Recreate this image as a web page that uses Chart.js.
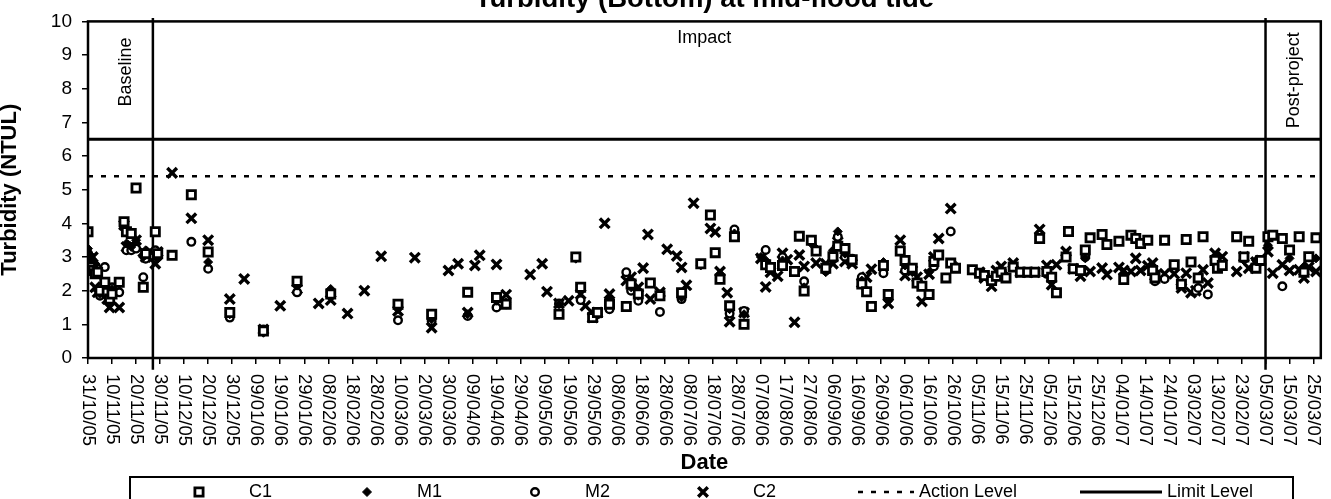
<!DOCTYPE html>
<html>
<head>
<meta charset="utf-8">
<title>Turbidity (Bottom) at mid-flood tide</title>
<script src="https://cdn.jsdelivr.net/npm/chart.js@4/dist/chart.umd.min.js"></script>
<style>
  html, body { margin: 0; padding: 0; background: #fff; }
  #wrap { width: 1331px; height: 499px; }
</style>
</head>
<body>
<div id="wrap"><canvas id="turbidityChart" width="1331" height="499"></canvas></div>
<script>
// sampling dates (dd/mm/yy), one reading per station, null = not visible
const sampleDates = [
  '31/10/05','01/11/05','02/11/05','03/11/05','04/11/05','05/11/05','07/11/05','08/11/05','09/11/05','10/11/05',
  '13/11/05','15/11/05','16/11/05','18/11/05','20/11/05','23/11/05','24/11/05','28/11/05','29/11/05','05/12/05',
  '13/12/05','20/12/05','29/12/05','04/01/06','12/01/06','19/01/06','26/01/06','04/02/06','09/02/06','16/02/06',
  '23/02/06','02/03/06','09/03/06','16/03/06','23/03/06','30/03/06','03/04/06','07/04/06','10/04/06','12/04/06',
  '19/04/06','23/04/06','03/05/06','08/05/06','10/05/06','15/05/06','19/05/06','22/05/06','24/05/06','26/05/06',
  '29/05/06','31/05/06','03/06/06','05/06/06','12/06/06','14/06/06','17/06/06','19/06/06','21/06/06','22/06/06',
  '26/06/06','29/06/06','03/07/06','05/07/06','07/07/06','10/07/06','13/07/06','17/07/06','19/07/06','21/07/06',
  '24/07/06','25/07/06','27/07/06','31/07/06','07/08/06','09/08/06','11/08/06','14/08/06','16/08/06','18/08/06',
  '21/08/06','23/08/06','25/08/06','28/08/06','30/08/06','03/09/06','06/09/06','08/09/06','11/09/06','14/09/06',
  '18/09/06','20/09/06','22/09/06','27/09/06','29/09/06','04/10/06','06/10/06','09/10/06','11/10/06','13/10/06',
  '16/10/06','18/10/06','20/10/06','23/10/06','25/10/06','27/10/06','03/11/06','06/11/06','08/11/06','11/11/06',
  '13/11/06','15/11/06','17/11/06','20/11/06','23/11/06','26/11/06','29/11/06','01/12/06','04/12/06','06/12/06',
  '08/12/06','12/12/06','13/12/06','15/12/06','18/12/06','20/12/06','22/12/06','27/12/06','29/12/06','03/01/07',
  '05/01/07','08/01/07','10/01/07','12/01/07','15/01/07','17/01/07','18/01/07','22/01/07','26/01/07','29/01/07',
  '31/01/07','02/02/07','04/02/07','05/02/07','07/02/07','09/02/07','12/02/07','13/02/07','15/02/07','21/02/07',
  '24/02/07','26/02/07','01/03/07','03/03/07','06/03/07','08/03/07','12/03/07','15/03/07','19/03/07','21/03/07',
  '23/03/07','26/03/07'
];

const c1Values = [
  3.75, 2.7, 2.6, 2.5, 2.55, 2.0, 2.25, 1.95, 1.75, 1.9,
  2.25, 4.05, 3.75, 3.7, 5.05, 2.1, 3.1, 3.75, 3.1, 3.05,
  4.85, 3.15, 1.35, null, 0.8, null, 2.28, null, 1.9, null,
  null, null, 1.6, null, 1.3, null, null, 1.95, null, null,
  1.8, 1.6, null, null, null, 1.3, null, 3.0, 2.1, null,
  1.2, 1.35, null, 1.6, 1.53, 2.2, 1.9, null, null, 2.23,
  1.85, null, null, 1.94, null, null, 2.8, 4.25, 3.13, 2.34,
  null, 1.55, 3.6, 1.0, null, 2.77, 2.69, null, 2.75, null,
  2.57, 3.62, 1.99, 3.5, 3.18, 2.67, 3.01, 3.32, 3.25, 2.92,
  2.2, 1.97, 1.53, 2.75, 1.89, 3.18, 2.9, 2.67, 2.23, 2.13,
  1.89, 2.87, 3.06, 2.38, 2.82, 2.67, 2.62, 2.52, 2.45, 2.3,
  2.43, 2.55, 2.38, 2.7, 2.55, 2.55, 2.55, 3.55, 2.57, 2.4,
  1.94, 3.0, 3.76, 2.65, 2.6, 3.21, 3.57, 3.67, 3.37, 3.47,
  2.33, 3.65, 3.55, 3.4, 3.5, 2.6, 2.38, 3.5, 2.77, 2.19,
  3.52, 2.85, null, 2.38, 3.6, null, 2.9, 2.67, 2.75, 3.6,
  3.0, 3.47, 2.67, 2.9, 3.6, 3.65, 3.55, 3.21, 3.6, 2.55,
  3.01, 3.57
];

const m1Values = [
  3.25, 3.05, 2.9, 2.8, 2.0, 1.9, 2.0, 1.8, 1.7, 2.05,
  2.2, 4.0, 3.4, 3.3, 3.5, 3.0, 3.2, 3.1, 2.95, null,
  null, 2.85, 1.3, null, 0.75, null, 2.15, null, 2.05, null,
  null, null, 1.45, null, 1.15, null, null, 1.3, null, null,
  1.7, 1.65, null, null, null, 1.6, null, 2.95, 2.0, null,
  1.25, 1.3, null, 1.75, null, 2.1, 1.85, null, null, null,
  1.9, null, null, 1.8, null, null, 2.75, null, null, 2.5,
  null, 1.45, 3.7, 1.3, 3.0, 2.9, null, null, 2.9, null,
  null, null, 2.1, 3.4, 3.25, 2.55, 3.2, 3.76, 3.1, 2.85,
  2.3, null, null, 2.85, 1.7, null, 2.75, 2.55, 2.3, null,
  2.55, null, null, null, null, 2.75, 2.6, null, null, null,
  null, null, 2.45, null, null, 2.55, null, null, null, null,
  null, 3.1, null, null, null, 2.96, null, null, null, null,
  2.5, null, null, null, null, null, null, null, null, null,
  null, null, null, null, null, null, 3.0, null, null, null,
  2.9, null, 2.9, null, 3.35, null, null, 2.96, null, 2.72,
  null, 2.96
];

const m2Values = [
  3.1, 3.0, 2.85, 2.75, 2.65, 1.85, 2.7, 2.0, 1.85, 2.1,
  1.95, 3.9, 3.2, 3.2, 3.25, 2.4, 2.95, 3.2, 3.0, null,
  3.45, 2.65, 1.2, null, 0.85, null, 1.95, null, 1.95, null,
  null, null, 1.12, null, 1.1, null, null, 1.25, null, null,
  1.5, 1.6, null, null, null, 1.62, null, null, 1.72, null,
  1.3, 1.3, null, 1.45, 2.55, 2.0, 1.7, null, null, null,
  1.37, null, null, 1.75, null, null, null, null, null, null,
  null, 1.32, 3.82, 1.4, null, 3.21, null, null, 3.0, null,
  null, null, 2.28, null, null, 2.6, null, 3.6, 3.01, 2.95,
  2.4, null, null, 2.52, null, null, 2.6, null, null, null,
  null, 2.72, null, null, 3.76, null, null, null, null, null,
  null, null, null, null, null, null, null, null, 2.5, null,
  null, null, null, null, null, 3.0, null, null, null, null,
  null, null, null, null, null, null, 2.28, 2.35, null, null,
  null, null, 1.99, 2.08, null, 1.89, null, 2.8, null, null,
  2.95, null, null, null, null, null, 2.13, null, null, null,
  null, null
];

const c2Values = [
  2.9, 2.85, 3.0, 2.1, 1.95, 2.0, 1.9, 1.75, 1.5, 2.05,
  1.5, 3.95, 3.3, 3.35, 3.5, 3.15, 3.0, 2.8, 3.15, 5.5,
  4.15, 3.5, 1.75, 2.35, 0.85, 1.55, 2.05, 1.62, 1.72, 1.32,
  2.0, 3.02, 1.4, 2.98, 0.9, 2.6, 2.8, 1.35, 2.75, 3.05,
  2.78, 1.88, 2.48, 2.8, 1.97, 1.62, 1.7, null, 1.9, 1.55,
  1.2, 1.35, 4.0, 1.9, 2.3, 2.4, 2.1, 2.67, 3.67, 1.75,
  1.95, 3.23, 3.03, 2.69, 2.16, 4.6, null, 3.85, 3.74, 2.57,
  1.94, 1.08, null, 1.35, 2.96, 2.11, 2.55, 2.43, 3.11, 2.92,
  1.06, 3.06, 2.72, null, 2.82, 2.8, 2.8, 3.45, 2.87, 2.8,
  2.23, 2.4, 2.64, null, 1.62, 3.5, 2.45, 2.6, 2.4, 1.68,
  2.49, 3.0, 3.55, null, 4.44, null, null, 2.55, 2.38, 2.13,
  2.6, 2.72, null, 2.82, 2.55, null, 2.55, 3.82, 2.75, 2.18,
  2.77, 3.16, null, 2.65, 2.43, null, 2.57, 2.67, 2.48, 2.69,
  2.6, 2.57, 2.96, 2.6, 2.74, 2.82, 2.45, 2.5, 2.5, 2.08,
  2.52, 1.94, 2.0, null, 2.62, 2.23, 3.11, null, 3.01, 2.57,
  3.01, 2.67, 2.85, 2.9, 3.16, 2.52, 2.77, 2.6, 2.62, 2.38,
  2.7, 2.57
];

const xTickLabels = [
  '31/10/05','10/11/05','20/11/05','30/11/05','10/12/05','20/12/05','30/12/05','09/01/06','19/01/06','29/01/06',
  '08/02/06','18/02/06','28/02/06','10/03/06','20/03/06','30/03/06','09/04/06','19/04/06','29/04/06','09/05/06',
  '19/05/06','29/05/06','08/06/06','18/06/06','28/06/06','08/07/06','18/07/06','28/07/06','07/08/06','17/08/06',
  '27/08/06','06/09/06','16/09/06','26/09/06','06/10/06','16/10/06','26/10/06','05/11/06','15/11/06','25/11/06',
  '05/12/06','15/12/06','25/12/06','04/01/07','14/01/07','24/01/07','03/02/07','13/02/07','23/02/07','05/03/07',
  '15/03/07','25/03/07'
];

const chartTitle = 'Turbidity (Bottom) at mid-flood tide';
const actionLevel = 5.4;
const limitLevel = 6.5;
const axisStart = '31/10/05';
const axisEnd = '28/03/07';
const phaseBounds = ['27/11/05', '05/03/07'];
const phaseNames = ['Baseline', 'Impact', 'Post-project'];
const phaseLineSpan = [-0.35, 10.1];

const FONT = "'Liberation Sans', Arial, sans-serif";

// days since the first sampling date, used as the x value
function dayOf(s) {
  const [d, m, y] = s.split('/').map(Number);
  return (Date.UTC(2000 + y, m - 1, d) - Date.UTC(2005, 9, 31)) / 86400000;
}

function points(values) {
  return sampleDates
    .map((d, i) => ({ x: dayOf(d), y: values[i] }))
    .filter(p => p.y !== null && p.y !== undefined);
}

function hLine(level) {
  return [{ x: dayOf(axisStart), y: level }, { x: dayOf(axisEnd), y: level }];
}

function vLine(date) {
  return [{ x: dayOf(date), y: phaseLineSpan[0] }, { x: dayOf(date), y: phaseLineSpan[1] }];
}

function verticalText(ctx, text, x, y) {
  ctx.save();
  ctx.translate(x, y);
  ctx.rotate(-Math.PI / 2);
  ctx.textAlign = 'center';
  ctx.textBaseline = 'middle';
  ctx.fillText(text, 0, 0);
  ctx.restore();
}

const decorations = {
  id: 'decorations',
  afterDraw(chart) {
    const { ctx, chartArea: a, scales: { x, y } } = chart;
    ctx.save();
    ctx.fillStyle = '#000';
    ctx.strokeStyle = '#000';

    // plot frame
    ctx.lineWidth = 2.5;
    ctx.strokeRect(a.left, a.top, a.right - a.left, a.bottom - a.top);

    // title, cut by the top edge as in the original
    ctx.font = `bold 27.5px ${FONT}`;
    ctx.textAlign = 'center';
    ctx.textBaseline = 'alphabetic';
    ctx.fillText(chartTitle, (a.left + a.right) / 2, 7);

    // date labels, reading top to bottom
    ctx.font = `18.5px ${FONT}`;
    ctx.textAlign = 'left';
    ctx.textBaseline = 'middle';
    x.ticks.forEach(t => {
      ctx.save();
      ctx.translate(x.getPixelForValue(t.value), a.bottom + 16);
      ctx.rotate(Math.PI / 2);
      ctx.fillText(t.label, 0, 0);
      ctx.restore();
    });

    // phase names
    const xb = x.getPixelForValue(dayOf(phaseBounds[0]));
    const xp = x.getPixelForValue(dayOf(phaseBounds[1]));
    ctx.font = `18px ${FONT}`;
    verticalText(ctx, phaseNames[0], (a.left + xb) / 2 + 6, y.getPixelForValue(8.5));
    ctx.textAlign = 'center';
    ctx.fillText(phaseNames[1], (xb + xp) / 2 - 5, y.getPixelForValue(9.5));
    verticalText(ctx, phaseNames[2], (xp + a.right) / 2 + 1, y.getPixelForValue(8.25));

    // legend box
    const top = 477, mid = 492;
    ctx.lineWidth = 2;
    ctx.strokeRect(130, top, 1163, 40);
    ctx.font = `18px ${FONT}`;
    ctx.textAlign = 'left';
    ctx.textBaseline = 'middle';
    const items = chart.data.datasets.filter(d => d.inLegend);
    const drawPoint = Chart.helpers && Chart.helpers.drawPoint;
    items.forEach((ds, i) => {
      if (ds.showLine) {
        const [x0, x1] = i === 4 ? [858, 914] : [1080, 1162];
        ctx.save();
        ctx.lineWidth = ds.borderWidth;
        ctx.setLineDash(ds.borderDash || []);
        ctx.beginPath();
        ctx.moveTo(x0, mid);
        ctx.lineTo(x1, mid);
        ctx.stroke();
        ctx.restore();
        ctx.fillText(ds.label, x1 + 5, mid);
      } else {
        const cx = 199 + 168 * i;
        ctx.save();
        ctx.fillStyle = ds.backgroundColor;
        ctx.strokeStyle = ds.borderColor;
        ctx.lineWidth = ds.borderWidth;
        if (drawPoint) {
          drawPoint(ctx, { pointStyle: ds.pointStyle, radius: ds.pointRadius, borderWidth: ds.borderWidth, rotation: 0 }, cx, mid);
        }
        ctx.restore();
        ctx.fillText(ds.label, cx + 50, mid);
      }
    });
    ctx.restore();
  }
};

const markerBase = { showLine: false, borderColor: '#000', pointHoverRadius: 0 };

new Chart(document.getElementById('turbidityChart').getContext('2d'), {
  type: 'scatter',
  data: {
    datasets: [
      { ...markerBase, label: 'C1', data: points(c1Values), pointStyle: 'rect', pointRadius: 5.8, borderWidth: 2.8, backgroundColor: '#fff', inLegend: true },
      { ...markerBase, label: 'M1', data: points(m1Values), pointStyle: 'rectRot', pointRadius: 4.5, borderWidth: 1, backgroundColor: '#000', inLegend: true },
      { ...markerBase, label: 'M2', data: points(m2Values), pointStyle: 'circle', pointRadius: 3.8, borderWidth: 2.4, backgroundColor: '#fff', inLegend: true },
      { ...markerBase, label: 'C2', data: points(c2Values), pointStyle: 'crossRot', pointRadius: 6.8, borderWidth: 3.4, backgroundColor: '#000', inLegend: true },
      { label: 'Action Level', data: hLine(actionLevel), showLine: true, pointRadius: 0, borderColor: '#000', borderWidth: 2.5, borderDash: [5, 8], inLegend: true },
      { label: 'Limit Level', data: hLine(limitLevel), showLine: true, pointRadius: 0, borderColor: '#000', borderWidth: 3, inLegend: true },
      { label: 'baseline end', data: vLine(phaseBounds[0]), showLine: true, pointRadius: 0, borderColor: '#000', borderWidth: 2.5, clip: false },
      { label: 'post-project start', data: vLine(phaseBounds[1]), showLine: true, pointRadius: 0, borderColor: '#000', borderWidth: 2.5, clip: false }
    ]
  },
  options: {
    responsive: false,
    animation: false,
    devicePixelRatio: 1,
    events: [],
    layout: { padding: { top: 16, right: 7, bottom: 23, left: 0 } },
    plugins: { legend: { display: false }, tooltip: { enabled: false } },
    scales: {
      x: {
        type: 'linear',
        min: dayOf(axisStart),
        max: dayOf(axisEnd),
        afterBuildTicks: s => { s.ticks = xTickLabels.map(t => ({ value: dayOf(t) })); },
        afterFit: s => { s.height = 118; },
        ticks: { display: false, callback: (v, i) => xTickLabels[i] },
        grid: { drawOnChartArea: false, drawTicks: true, tickLength: 6, color: '#000', lineWidth: 1.5 },
        border: { display: false },
        title: { display: true, text: 'Date', color: '#000', font: { family: FONT, size: 22, weight: 'bold', lineHeight: 1.2 }, padding: { top: 0, bottom: 0 } }
      },
      y: {
        min: 0,
        max: 10,
        afterFit: s => { s.width = 88; },
        ticks: { stepSize: 1, color: '#000', padding: 10, font: { family: FONT, size: 19 } },
        grid: { drawOnChartArea: false, drawTicks: true, tickLength: 6, color: '#000', lineWidth: 1.5 },
        border: { display: false },
        title: { display: true, text: 'Turbidity (NTUL)', color: '#000', font: { family: FONT, size: 22, weight: 'bold', lineHeight: 0.9 }, padding: { top: 0, bottom: 0 } }
      }
    }
  },
  plugins: [decorations]
});
</script>
</body>
</html>
